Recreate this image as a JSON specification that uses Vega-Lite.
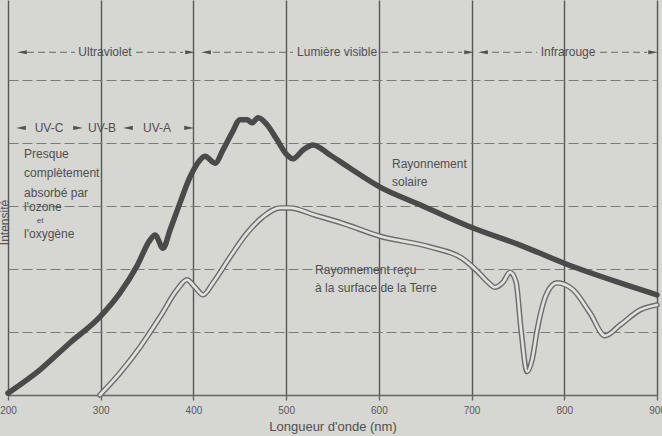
{
  "$schema": "https://vega.github.io/schema/vega-lite/v6.json",
  "width": 649,
  "height": 395,
  "autosize": {"type": "none"},
  "padding": {"left": 8, "right": 5, "top": 0, "bottom": 41},
  "background": "#d6d6d2",
  "config": {
    "view": {"stroke": null},
    "font": "Liberation Sans Narrow, Liberation Sans, sans-serif"
  },
  "datasets": {
    "solar": [
      {"nm": 200, "v": 0.03}, {"nm": 234.5, "v": 0.4}, {"nm": 266.9, "v": 0.83},
      {"nm": 299.2, "v": 1.24}, {"nm": 320.8, "v": 1.62}, {"nm": 339.2, "v": 2.05},
      {"nm": 353.2, "v": 2.46}, {"nm": 358.6, "v": 2.54}, {"nm": 367.2, "v": 2.33},
      {"nm": 374.8, "v": 2.62}, {"nm": 385.5, "v": 3.05}, {"nm": 396.3, "v": 3.46},
      {"nm": 407.1, "v": 3.73}, {"nm": 412.5, "v": 3.79}, {"nm": 423.3, "v": 3.68},
      {"nm": 431.9, "v": 3.89}, {"nm": 441.6, "v": 4.16}, {"nm": 450.3, "v": 4.37},
      {"nm": 457.8, "v": 4.37}, {"nm": 463.2, "v": 4.32}, {"nm": 469.7, "v": 4.4},
      {"nm": 479.4, "v": 4.29}, {"nm": 490.2, "v": 4.05}, {"nm": 501, "v": 3.81},
      {"nm": 507.4, "v": 3.75}, {"nm": 518.2, "v": 3.89}, {"nm": 529, "v": 3.97},
      {"nm": 547.4, "v": 3.81}, {"nm": 568.9, "v": 3.6}, {"nm": 601.3, "v": 3.3},
      {"nm": 644.4, "v": 3.02}, {"nm": 701.6, "v": 2.65}, {"nm": 752.3, "v": 2.38},
      {"nm": 801.9, "v": 2.08}, {"nm": 860.2, "v": 1.78}, {"nm": 900, "v": 1.59}
    ],
    "ground": [
      {"nm": 299.2, "v": 0.0}, {"nm": 320.8, "v": 0.35}, {"nm": 342.4, "v": 0.76},
      {"nm": 364, "v": 1.24}, {"nm": 382.3, "v": 1.67}, {"nm": 393.1, "v": 1.83},
      {"nm": 401.7, "v": 1.71}, {"nm": 410.4, "v": 1.59}, {"nm": 421.1, "v": 1.78},
      {"nm": 439.5, "v": 2.19}, {"nm": 457.8, "v": 2.57}, {"nm": 475.1, "v": 2.83},
      {"nm": 493.4, "v": 2.97}, {"nm": 504.2, "v": 2.97}, {"nm": 530, "v": 2.86},
      {"nm": 562, "v": 2.72}, {"nm": 601.3, "v": 2.52}, {"nm": 655.2, "v": 2.35},
      {"nm": 690.8, "v": 2.16}, {"nm": 705.9, "v": 1.97}, {"nm": 717.8, "v": 1.79},
      {"nm": 725.3, "v": 1.71}, {"nm": 734, "v": 1.79}, {"nm": 741.5, "v": 1.95},
      {"nm": 748, "v": 1.79}, {"nm": 753.4, "v": 1.03}, {"nm": 759.9, "v": 0.37},
      {"nm": 765.3, "v": 0.56}, {"nm": 770.7, "v": 1.03}, {"nm": 781.4, "v": 1.62},
      {"nm": 792.2, "v": 1.78}, {"nm": 809.5, "v": 1.67}, {"nm": 827.8, "v": 1.3},
      {"nm": 844, "v": 0.94}, {"nm": 860.2, "v": 1.11}, {"nm": 881.8, "v": 1.35},
      {"nm": 900, "v": 1.43}
    ],
    "dashes": [
      {"nm": 220.5, "nm2": 272.3, "v": 5.44}, {"nm": 338.1, "nm2": 388.8, "v": 5.44},
      {"nm": 421.1, "nm2": 507.4, "v": 5.44}, {"nm": 602.4, "nm2": 689.8, "v": 5.44},
      {"nm": 722.1, "nm2": 770.7, "v": 5.44}, {"nm": 838.6, "nm2": 889.3, "v": 5.44}
    ],
    "arrows": [
      {"nm": 215.1, "v": 5.44, "dir": "left"}, {"nm": 396.3, "v": 5.44, "dir": "right"},
      {"nm": 413.6, "v": 5.44, "dir": "left"}, {"nm": 697.3, "v": 5.44, "dir": "right"},
      {"nm": 712.4, "v": 5.44, "dir": "left"}, {"nm": 895.8, "v": 5.44, "dir": "right"},
      {"nm": 214, "v": 4.24, "dir": "left"}, {"nm": 275.5, "v": 4.24, "dir": "right"},
      {"nm": 329.4, "v": 4.24, "dir": "left"}, {"nm": 395.3, "v": 4.24, "dir": "right"}
    ],
    "bands": [
      {"nm": 304.6, "v": 5.44, "label": "Ultraviolet"},
      {"nm": 554.9, "v": 5.44, "label": "Lumière visible"},
      {"nm": 804.1, "v": 5.44, "label": "Infrarouge"},
      {"nm": 244.2, "v": 4.24, "label": "UV-C"},
      {"nm": 301.4, "v": 4.24, "label": "UV-B"},
      {"nm": 360.7, "v": 4.24, "label": "UV-A"}
    ],
    "notes": [
      {"nm": 217.3, "v": 3.83, "label": "Presque"},
      {"nm": 217.3, "v": 3.52, "label": "complètement"},
      {"nm": 217.3, "v": 3.21, "label": "absorbé par"},
      {"nm": 217.3, "v": 2.98, "label": "l'ozone"},
      {"nm": 217.3, "v": 2.56, "label": "l'oxygène"},
      {"nm": 614.2, "v": 3.67, "label": "Rayonnement"},
      {"nm": 614.2, "v": 3.38, "label": "solaire"},
      {"nm": 531.2, "v": 1.98, "label": "Rayonnement reçu"},
      {"nm": 531.2, "v": 1.7, "label": "à la surface de la Terre"}
    ],
    "small": [
      {"nm": 231, "v": 2.76, "label": "et"}
    ]
  },
  "layer": [
    {
      "data": {"name": "solar"},
      "mark": {"type": "line", "color": "#4a4a4a", "strokeWidth": 5.5, "interpolate": "monotone", "strokeCap": "round", "strokeJoin": "round"},
      "encoding": {
        "x": {
          "field": "nm", "type": "quantitative",
          "scale": {"domain": [200, 900], "nice": false, "zero": false},
          "axis": {
            "values": [200, 300, 400, 500, 600, 700, 800, 900],
            "grid": true, "gridColor": "#575757", "gridWidth": 1.4,
            "domainColor": "#666666", "domainWidth": 1.4,
            "tickColor": "#666666", "tickSize": 5, "tickWidth": 1.4,
            "labelFontSize": 10, "labelColor": "#5a5a5a", "labelPadding": 5,
            "labelFlush": false,
            "title": "Longueur d'onde (nm)", "titleFontSize": 13, "titleFontWeight": "normal",
            "titleColor": "#505050", "titlePadding": 5
          }
        },
        "y": {
          "field": "v", "type": "quantitative",
          "scale": {"domain": [0, 6.27], "nice": false, "zero": true},
          "axis": {
            "values": [1, 2, 3, 4, 5],
            "grid": true, "gridColor": "#7a7a7a", "gridWidth": 1, "gridDash": [10, 4],
            "domain": false, "ticks": false, "labels": false,
            "title": "Intensité", "titleAngle": -90, "titleX": -4, "titleY": 222,
            "titleBaseline": "middle", "titleAlign": "center",
            "titleFontSize": 12, "titleFontWeight": "normal", "titleColor": "#555555"
          }
        }
      }
    },
    {
      "data": {"name": "ground"},
      "mark": {"type": "line", "color": "#6e6e6e", "strokeWidth": 5.5, "interpolate": "monotone", "strokeCap": "round"},
      "encoding": {"x": {"field": "nm", "type": "quantitative"}, "y": {"field": "v", "type": "quantitative"}}
    },
    {
      "data": {"name": "ground"},
      "mark": {"type": "line", "color": "#e2e2de", "strokeWidth": 2.6, "interpolate": "monotone", "strokeCap": "round"},
      "encoding": {"x": {"field": "nm", "type": "quantitative"}, "y": {"field": "v", "type": "quantitative"}}
    },
    {
      "data": {"name": "dashes"},
      "mark": {"type": "rule", "color": "#6a6a6a", "strokeWidth": 1, "strokeDash": [7, 4]},
      "encoding": {
        "x": {"field": "nm", "type": "quantitative"},
        "x2": {"field": "nm2"},
        "y": {"field": "v", "type": "quantitative"}
      }
    },
    {
      "data": {"name": "arrows"},
      "mark": {"type": "point", "filled": true, "opacity": 1, "color": "#505050", "size": 65},
      "encoding": {
        "x": {"field": "nm", "type": "quantitative"},
        "y": {"field": "v", "type": "quantitative"},
        "shape": {
          "field": "dir", "type": "nominal", "legend": null,
          "scale": {"domain": ["left", "right"], "range": ["M-1.2,0L1.2,-0.5L1.2,0.5Z", "M1.2,0L-1.2,-0.5L-1.2,0.5Z"]}
        }
      }
    },
    {
      "data": {"name": "bands"},
      "mark": {"type": "text", "align": "center", "baseline": "middle", "fontSize": 12, "color": "#4f4f4f"},
      "encoding": {
        "x": {"field": "nm", "type": "quantitative"},
        "y": {"field": "v", "type": "quantitative"},
        "text": {"field": "label"}
      }
    },
    {
      "data": {"name": "notes"},
      "mark": {"type": "text", "align": "left", "baseline": "middle", "fontSize": 12, "color": "#4f4f4f"},
      "encoding": {
        "x": {"field": "nm", "type": "quantitative"},
        "y": {"field": "v", "type": "quantitative"},
        "text": {"field": "label"}
      }
    },
    {
      "data": {"name": "small"},
      "mark": {"type": "text", "align": "left", "baseline": "middle", "fontSize": 8, "color": "#4f4f4f"},
      "encoding": {
        "x": {"field": "nm", "type": "quantitative"},
        "y": {"field": "v", "type": "quantitative"},
        "text": {"field": "label"}
      }
    }
  ]
}
